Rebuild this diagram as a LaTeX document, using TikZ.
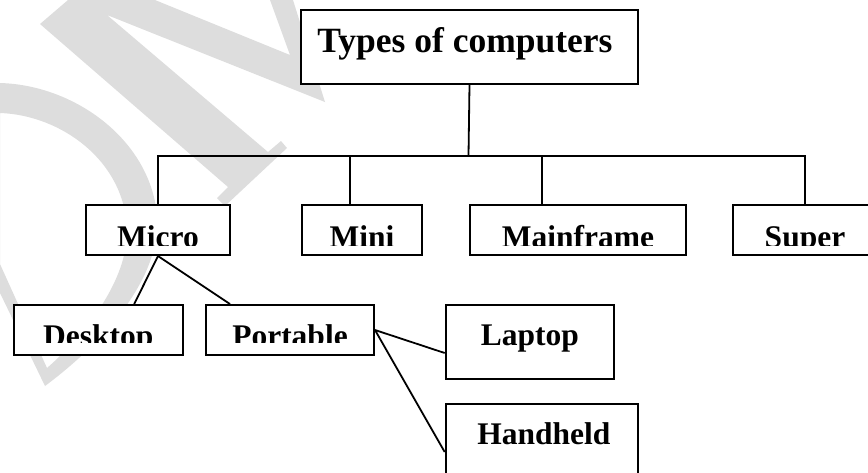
\documentclass[tikz,border=0pt]{standalone}
\usepackage{fontspec}
\setmainfont{Liberation Serif}
\definecolor{wmgray}{RGB}{221,221,221}
\newcommand\titlefont{\fontsize{35.5}{42}\selectfont\bfseries}
\newcommand\boxfont{\fontsize{31.5}{37}\selectfont\bfseries}
\begin{document}
\begin{tikzpicture}[x=1pt,y=-1pt,
  box/.style={draw, fill=white, line width=2pt, inner sep=0pt, anchor=north west},
  lbl/.style={font=\boxfont, inner sep=0pt, anchor=base},
  ttl/.style={font=\titlefont, inner sep=0pt, anchor=base},
  conn/.style={line width=1.8pt},
  wm/.style={fill=wmgray, draw=none}]
\useasboundingbox (0,0) rectangle (868,472);
% watermark
\fill[wm] (40,24) -- (68,0) -- (155,0) -- (290,55) -- (270,0) -- (293,0) -- (325,102)
  -- (107,15) -- (268,152) -- (281,141) -- (287,148) -- (225,206) -- (217,198) -- (228,187) -- cycle;
\fill[wm, even odd rule]
  (0,83) .. controls (75,85) and (150,140) .. (157,215) .. controls (162,280) and (100,345) .. (45,386) -- (0,293) -- cycle
  (0,113) .. controls (60,115) and (125,160) .. (127,230) .. controls (128,280) and (85,335) .. (47,368) -- (0,264) -- cycle;
% title
\node[box, minimum width=337pt, minimum height=74pt] (title) at (300,9) {};
\node[ttl] (title-t) at ([xshift=-4.5pt,yshift=-43pt]title.north) {Types of computers};
% first row
\node[box, minimum width=144pt, minimum height=50pt] (micro) at (85,204) {};
\node[box, minimum width=120pt, minimum height=50pt] (mini) at (301,204) {};
\node[box, minimum width=216pt, minimum height=50pt] (mainframe) at (469,204) {};
\node[box, minimum width=144pt, minimum height=50pt] (super) at (732,204) {};
\foreach \n/\t in {micro/Micro, mini/Mini, mainframe/Mainframe, super/Super} {
  \begin{scope}
    \clip (\n.north west) rectangle ([yshift=-41pt]\n.north east);
    \node[lbl] (\n-t) at ([yshift=-43pt]\n.north) {\t};
  \end{scope}
}
% second row
\node[box, minimum width=169pt, minimum height=50pt] (desktop) at (12.7,304) {};
\node[box, minimum width=168pt, minimum height=50pt] (portable) at (205,304) {};
\foreach \n/\t in {desktop/Desktop, portable/Portable} {
  \begin{scope}
    \clip (\n.north west) rectangle ([yshift=-38pt]\n.north east);
    \node[lbl] (\n-t) at ([yshift=-42pt]\n.north) {\t};
  \end{scope}
}
\node[box, minimum width=168.3pt, minimum height=74pt] (laptop) at (444.7,304) {};
\node[lbl] (laptop-t) at ([yshift=-41.5pt]laptop.north) {Laptop};
\node[box, minimum width=192.3pt, minimum height=80pt] (handheld) at (444.7,403) {};
\node[lbl] (handheld-t) at ([xshift=2pt,yshift=-41pt]handheld.north) {Handheld};
% connectors
\coordinate (hub) at (468.5,156);
\draw[conn] (title.south) -- (hub);
\draw[conn] (micro.north) -- (micro.north |- hub) -- (super.north |- hub) -- (super.north);
\draw[conn] ([xshift=-12pt]mini.north) -- ([xshift=-12pt]mini.north |- hub);
\draw[conn] ([xshift=-36pt]mainframe.north) -- ([xshift=-36pt]mainframe.north |- hub);
\draw[conn] (micro.south) -- ([xshift=36pt]desktop.north);
\draw[conn] (micro.south) -- ([xshift=-60pt]portable.north);
\draw[conn] (portable.east) -- ([yshift=-49pt]laptop.north west);
\draw[conn] (portable.east) -- ([yshift=-49pt]handheld.north west);
\end{tikzpicture}
\end{document}
